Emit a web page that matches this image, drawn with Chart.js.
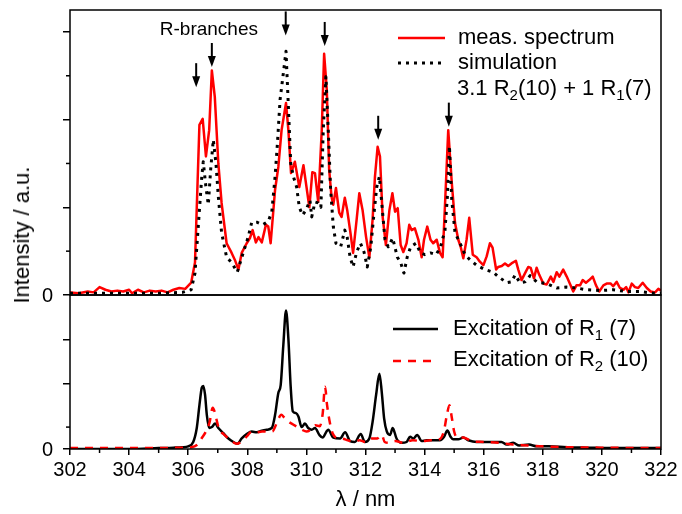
<!DOCTYPE html>
<html>
<head>
<meta charset="utf-8">
<script src="https://cdn.jsdelivr.net/npm/chart.js@4.4.1/dist/chart.umd.min.js"></script>
<style>
  body { margin: 0; background: #fff; }
  #wrap { position: relative; width: 682px; height: 514px; font-family: "Liberation Sans", Arial, sans-serif; }
  canvas { position: absolute; left: 0; }
  #topChart { top: 0; width: 682px; height: 312px; }
  #bottomChart { top: 290px; width: 682px; height: 224px; }
  #ylabel { position: absolute; left: 22px; top: 235px; transform: translate(-50%, -50%) rotate(-90deg);
            font-size: 22px; white-space: nowrap; color: #000; }
</style>
</head>
<body>
<div id="wrap">
  <canvas id="topChart" width="682" height="312"></canvas>
  <canvas id="bottomChart" width="682" height="224"></canvas>
  <div id="ylabel">Intensity / a.u.</div>
</div>
<script>
// measured spectrum (red, top panel)
const measWl = [302.0, 302.3, 302.6, 302.8, 303.0, 303.2, 303.4, 303.6, 303.8, 304.0, 304.1, 304.3, 304.5, 304.7, 304.9,
  305.1, 305.3, 305.5, 305.7, 305.9, 306.1, 306.23, 306.38, 306.49, 306.6, 306.71, 306.8, 306.9, 307.02, 307.13, 307.3,
  307.47, 307.58, 307.7, 307.81, 307.98, 308.09, 308.18, 308.29, 308.38, 308.49, 308.63, 308.71, 308.79, 308.94, 309.05,
  309.16, 309.31, 309.39, 309.48, 309.61, 309.76, 309.9, 310.1, 310.2, 310.29, 310.4, 310.52, 310.6, 310.69, 310.77,
  310.85, 310.91, 311.0, 311.11, 311.19, 311.3, 311.38, 311.49, 311.58, 311.7, 311.79, 311.9, 312.02, 312.13, 312.24,
  312.32, 312.41, 312.49, 312.58, 312.69, 312.81, 312.91, 313.0, 313.09, 313.19, 313.28, 313.39, 313.48, 313.56, 313.67,
  313.79, 313.9, 313.98, 314.09, 314.2, 314.29, 314.41, 314.52, 314.61, 314.7, 314.8, 314.92, 315.03, 315.14, 315.22,
  315.31, 315.42, 315.51, 315.63, 315.76, 315.87, 315.99, 316.1, 316.21, 316.3, 316.42, 316.49, 316.61, 316.72, 316.83,
  316.94, 317.09, 317.17, 317.28, 317.4, 317.51, 317.59, 317.7, 317.79, 317.88, 318.02, 318.13, 318.27, 318.36, 318.47,
  318.56, 318.69, 318.81, 318.94, 319.03, 319.14, 319.26, 319.35, 319.46, 319.57, 319.69, 319.8, 319.91, 320.05, 320.16,
  320.3, 320.38, 320.5, 320.61, 320.73, 320.82, 320.9, 321.01, 321.12, 321.23, 321.38, 321.52, 321.65, 321.8, 321.91, 322.0];
const measInt = [0.03, 0.02, 0.04, 0.03, 0.09, 0.06, 0.04, 0.05, 0.04, 0.06, 0.02, 0.06, 0.03, 0.05, 0.04,
  0.05, 0.03, 0.06, 0.08, 0.07, 0.14, 0.37, 1.94, 2.01, 1.58, 1.88, 2.56, 2.26, 1.5, 1.05, 0.59,
  0.48, 0.4, 0.29, 0.48, 0.59, 0.65, 0.74, 0.6, 0.66, 0.6, 0.8, 0.78, 0.59, 1.2, 1.46,
  1.88, 2.19, 1.88, 1.39, 1.52, 1.23, 1.48, 1.0, 1.4, 1.39, 1.06, 1.88, 2.75, 2.34, 1.43,
  1.12, 1.03, 1.22, 0.94, 0.89, 1.11, 0.97, 0.71, 0.48, 0.86, 1.16, 0.97, 0.66, 0.43, 0.86,
  1.35, 1.69, 1.58, 0.89, 0.57, 0.97, 1.16, 0.95, 0.99, 0.57, 0.49, 0.59, 0.8, 0.74, 0.76,
  0.63, 0.43, 0.63, 0.78, 0.63, 0.59, 0.63, 0.48, 0.43, 1.1, 1.88, 1.28, 0.82, 0.63, 0.55,
  0.42, 0.63, 0.88, 0.46, 0.43, 0.38, 0.34, 0.44, 0.59, 0.54, 0.29, 0.32, 0.33, 0.36, 0.33,
  0.36, 0.39, 0.29, 0.17, 0.25, 0.32, 0.31, 0.19, 0.31, 0.23, 0.13, 0.12, 0.21, 0.15, 0.26,
  0.21, 0.29, 0.21, 0.11, 0.04, 0.11, 0.11, 0.17, 0.14, 0.17, 0.21, 0.11, 0.04, 0.11, 0.13,
  0.13, 0.1, 0.15, 0.08, 0.06, 0.09, 0.03, 0.13, 0.09, 0.08, 0.14, 0.08, 0.04, 0.03, 0.07, 0.05];

// simulation 3.1 R2(10) + 1 R1(7) (black dotted, top panel)
const simWl = [302.0, 303.0, 304.0, 305.0, 305.8, 306.1, 306.23, 306.34, 306.46, 306.51, 306.6, 306.68, 306.76, 306.85,
  306.94, 307.02, 307.13, 307.3, 307.47, 307.66, 307.86, 308.03, 308.15, 308.32, 308.52, 308.71, 308.83, 308.94, 309.02,
  309.11, 309.22, 309.31, 309.39, 309.47, 309.56, 309.67, 309.76, 309.87, 309.99, 310.12, 310.18, 310.29, 310.4, 310.49,
  310.57, 310.66, 310.74, 310.82, 310.91, 311.0, 311.16, 311.3, 311.38, 311.48, 311.58, 311.7, 311.83, 311.95, 312.06,
  312.18, 312.29, 312.38, 312.47, 312.55, 312.66, 312.77, 312.92, 313.08, 313.19, 313.3, 313.41, 313.53, 313.71, 313.86,
  314.01, 314.2, 314.39, 314.54, 314.69, 314.77, 314.84, 314.92, 315.03, 315.2, 315.37, 315.54, 315.76, 316.04, 316.32,
  316.49, 316.78, 316.95, 317.06, 317.23, 317.4, 317.57, 317.79, 318.13, 318.47, 318.81, 319.14, 319.48, 319.94, 320.38,
  320.83, 321.29, 321.74, 322.0];
const simInt = [0.02, 0.02, 0.02, 0.02, 0.03, 0.06, 0.25, 0.78, 1.35, 1.52, 1.23, 1.03, 1.43, 1.77,
  1.5, 1.12, 0.71, 0.43, 0.37, 0.26, 0.48, 0.66, 0.83, 0.83, 0.8, 0.84, 0.95, 1.35, 1.73,
  2.23, 2.53, 2.78, 2.15, 1.5, 1.35, 1.23, 1.0, 0.91, 0.97, 1.08, 0.89, 1.06, 1.05, 1.0,
  1.88, 2.49, 1.88, 1.2, 0.78, 0.59, 0.55, 0.74, 0.66, 0.43, 0.32, 0.49, 0.59, 0.49, 0.32,
  0.55, 0.94, 1.23, 1.35, 1.05, 0.63, 0.55, 0.65, 0.43, 0.37, 0.25, 0.43, 0.55, 0.59, 0.48,
  0.46, 0.48, 0.46, 0.55, 0.74, 1.12, 1.7, 1.08, 0.71, 0.59, 0.46, 0.4, 0.34, 0.29, 0.26,
  0.21, 0.14, 0.15, 0.23, 0.14, 0.15, 0.22, 0.15, 0.13, 0.08, 0.09, 0.08, 0.06, 0.05, 0.06,
  0.04, 0.04, 0.02, 0.02];

// excitation of R1(7) (black solid, bottom panel)
const excR1Wl = [302.0, 304.0, 305.0, 305.5, 305.8, 306.0, 306.17, 306.29, 306.38, 306.46, 306.51, 306.57, 306.63, 306.71,
  306.8, 306.91, 307.02, 307.19, 307.36, 307.53, 307.66, 307.81, 307.98, 308.15, 308.32, 308.49, 308.66, 308.83, 308.94,
  309.05, 309.13, 309.22, 309.31, 309.39, 309.47, 309.54, 309.65, 309.73, 309.84, 309.95, 310.06, 310.18, 310.29, 310.44,
  310.55, 310.68, 310.74, 310.91, 311.14, 311.31, 311.48, 311.64, 311.84, 311.98, 312.13, 312.24, 312.36, 312.47, 312.55,
  312.63, 312.72, 312.83, 312.92, 313.05, 313.22, 313.39, 313.51, 313.62, 313.75, 313.9, 314.07, 314.29, 314.52, 314.66,
  314.77, 314.88, 314.97, 315.14, 315.31, 315.48, 315.76, 316.1, 316.44, 316.6, 316.78, 317.0, 317.2, 317.53, 317.8,
  318.2, 318.8, 319.5, 320.5, 322.0];
const excR1Int = [0.0, 0.0, 0.01, 0.015, 0.02, 0.03, 0.08, 0.24, 0.5, 0.7, 0.72, 0.62, 0.39, 0.24,
  0.25, 0.29, 0.24, 0.18, 0.12, 0.08, 0.06, 0.12, 0.17, 0.2, 0.19, 0.21, 0.22, 0.24, 0.39,
  0.64, 0.73, 1.19, 1.58, 1.26, 0.7, 0.43, 0.41, 0.37, 0.25, 0.29, 0.24, 0.22, 0.24, 0.16,
  0.13, 0.2, 0.22, 0.13, 0.12, 0.19, 0.09, 0.08, 0.17, 0.08, 0.12, 0.31, 0.62, 0.86, 0.65,
  0.35, 0.2, 0.16, 0.24, 0.12, 0.07, 0.08, 0.14, 0.12, 0.16, 0.09, 0.1, 0.1, 0.1, 0.14,
  0.21, 0.14, 0.11, 0.11, 0.13, 0.1, 0.08, 0.08, 0.08, 0.08, 0.05, 0.07, 0.04, 0.05, 0.03,
  0.03, 0.02, 0.015, 0.01, 0.01];

// excitation of R2(10) (red dashed, bottom panel)
const excR2Wl = [302.0, 303.0, 304.0, 305.0, 305.8, 306.1, 306.34, 306.45, 306.6, 306.72, 306.83, 306.9, 306.97, 307.05,
  307.2, 307.4, 307.65, 307.85, 308.0, 308.15, 308.3, 308.5, 308.7, 308.85, 308.95, 309.05, 309.15, 309.25, 309.4,
  309.55, 309.7, 309.85, 310.0, 310.15, 310.3, 310.45, 310.55, 310.63, 310.7, 310.8, 310.9, 311.0, 311.2, 311.4,
  311.6, 311.8, 312.0, 312.2, 312.4, 312.55, 312.65, 312.8, 313.0, 313.3, 313.6, 313.9, 314.2, 314.5, 314.65,
  314.75, 314.84, 314.92, 315.0, 315.1, 315.3, 315.6, 316.0, 316.5, 317.0, 317.5, 318.0, 319.0, 320.0, 322.0];
const excR2Int = [0.01, 0.01, 0.01, 0.01, 0.015, 0.02, 0.06, 0.12, 0.2, 0.3, 0.47, 0.42, 0.32, 0.22,
  0.17, 0.11, 0.06, 0.1, 0.15, 0.2, 0.19, 0.2, 0.2, 0.2, 0.26, 0.34, 0.39, 0.36, 0.31,
  0.28, 0.25, 0.22, 0.2, 0.22, 0.27, 0.26, 0.4, 0.71, 0.5, 0.29, 0.17, 0.13, 0.12, 0.1,
  0.08, 0.1, 0.08, 0.12, 0.12, 0.16, 0.08, 0.07, 0.09, 0.07, 0.1, 0.09, 0.1, 0.11, 0.2,
  0.38, 0.5, 0.36, 0.2, 0.13, 0.13, 0.09, 0.08, 0.07, 0.05, 0.04, 0.03, 0.02, 0.015, 0.01];

// axis ticks
const xMajor = [302, 304, 306, 308, 310, 312, 314, 316, 318, 320, 322];
const xMinor = [303, 305, 307, 309, 311, 313, 315, 317, 319, 321];
const topYMajor = [0, 1, 2, 3];
const topYMinor = [0.5, 1.5, 2.5];
const bottomYMajor = [0, 0.75, 1.25];
const bottomYMinor = [0.25];

// R-branch arrows: wavelength and intensity of the arrow tip
const arrowWl = [306.27, 306.8, 309.3, 310.62, 312.43, 314.82];
const arrowTip = [2.37, 2.6, 2.96, 2.84, 1.77, 1.92];

const FONT = '"Liberation Sans", Arial, sans-serif';
const pts = (xs, ys) => xs.map((x, i) => ({ x: x, y: ys[i] }));

function drawFrame(chart) {
  const { ctx, chartArea: a, scales } = chart;
  ctx.save();
  ctx.strokeStyle = "#000";
  ctx.lineWidth = 1.5;
  ctx.setLineDash([]);
  ctx.beginPath();
  ctx.rect(a.left, a.top, a.right - a.left, a.bottom - a.top);
  ctx.stroke();
  // "0" label of the intensity axis
  ctx.fillStyle = "#000";
  ctx.font = "20px " + FONT;
  ctx.textAlign = "right";
  ctx.textBaseline = "middle";
  ctx.fillText("0", a.left - 17, scales.y.getPixelForValue(0) + 1);
  ctx.restore();
}

function drawMinorY(chart, values) {
  const { ctx, chartArea: a, scales } = chart;
  ctx.save();
  ctx.strokeStyle = "#000";
  ctx.lineWidth = 1.5;
  values.forEach((v) => {
    const y = scales.y.getPixelForValue(v);
    ctx.beginPath();
    ctx.moveTo(a.left - 4, y);
    ctx.lineTo(a.left, y);
    ctx.stroke();
  });
  ctx.restore();
}

function sample(ctx, x0, x1, y, color, dash, width) {
  ctx.save();
  ctx.strokeStyle = color;
  ctx.lineWidth = width;
  ctx.setLineDash(dash);
  ctx.beginPath();
  ctx.moveTo(x0, y);
  ctx.lineTo(x1, y);
  ctx.stroke();
  ctx.restore();
}

// text with subscripts: parts = [[text, isSub], ...]
function drawRich(ctx, x, y, parts) {
  ctx.save();
  ctx.fillStyle = "#000";
  ctx.textBaseline = "middle";
  ctx.textAlign = "left";
  parts.forEach(([txt, sub]) => {
    ctx.font = (sub ? "15px " : "22px ") + FONT;
    ctx.fillText(txt, x, sub ? y + 7 : y);
    x += ctx.measureText(txt).width;
  });
  ctx.restore();
}

const topDecor = {
  id: "topDecor",
  afterDraw(chart) {
    const { ctx, scales } = chart;
    drawFrame(chart);
    drawMinorY(chart, topYMinor);

    // arrows marking the R-branches
    ctx.save();
    ctx.fillStyle = "#000";
    ctx.strokeStyle = "#000";
    ctx.lineWidth = 2;
    arrowWl.forEach((wl, i) => {
      const x = scales.x.getPixelForValue(wl);
      const yt = scales.y.getPixelForValue(arrowTip[i]);
      ctx.beginPath();
      ctx.moveTo(x, yt - 24);
      ctx.lineTo(x, yt - 9);
      ctx.stroke();
      ctx.beginPath();
      ctx.moveTo(x - 4, yt - 11);
      ctx.lineTo(x + 4, yt - 11);
      ctx.lineTo(x, yt);
      ctx.closePath();
      ctx.fill();
    });
    ctx.font = "19px " + FONT;
    ctx.textAlign = "center";
    ctx.textBaseline = "middle";
    ctx.fillText("R-branches", scales.x.getPixelForValue(306.7), scales.y.getPixelForValue(3.03));
    ctx.restore();

    // legend
    sample(ctx, 398, 445, 38, "#ff0000", [], 2.5);
    drawRich(ctx, 458, 38, [["meas. spectrum", false]]);
    sample(ctx, 398, 445, 63, "#000", [3, 5], 3);
    drawRich(ctx, 458, 63, [["simulation", false]]);
    drawRich(ctx, 457, 89, [["3.1 R", false], ["2", true], ["(10) + 1 R", false], ["1", true], ["(7)", false]]);
  },
};

const bottomDecor = {
  id: "bottomDecor",
  afterDraw(chart) {
    const { ctx, chartArea: a, scales } = chart;
    drawFrame(chart);
    drawMinorY(chart, bottomYMinor);
    ctx.save();
    ctx.strokeStyle = "#000";
    ctx.lineWidth = 1.5;
    xMinor.forEach((v) => {
      const x = scales.x.getPixelForValue(v);
      ctx.beginPath();
      ctx.moveTo(x, a.bottom);
      ctx.lineTo(x, a.bottom + 4);
      ctx.stroke();
    });
    ctx.restore();

    sample(ctx, 393, 438, 329 - 290, "#000", [], 2.5);
    drawRich(ctx, 453, 329 - 290, [["Excitation of R", false], ["1", true], [" (7)", false]]);
    sample(ctx, 393, 438, 361 - 290, "#ff0000", [8, 7], 2.5);
    drawRich(ctx, 453, 360 - 290, [["Excitation of R", false], ["2", true], [" (10)", false]]);
  },
};

function yAxis(max, major) {
  return {
    type: "linear",
    min: 0,
    max: max,
    afterFit: (s) => { s.width = 70; },
    afterBuildTicks: (s) => { s.ticks = major.map((v) => ({ value: v })); },
    ticks: { display: false },
    grid: { drawOnChartArea: false, tickLength: 7, color: "#000", lineWidth: 1.5 },
    border: { display: false },
  };
}

const common = {
  responsive: false,
  animation: false,
  devicePixelRatio: 1,
  parsing: false,
  plugins: { legend: { display: false }, tooltip: { enabled: false } },
  elements: { point: { radius: 0 }, line: { borderJoinStyle: "round" } },
};

new Chart(document.getElementById("topChart"), {
  type: "line",
  data: {
    datasets: [
      {
        data: pts(simWl, simInt),
        borderColor: "#000",
        borderWidth: 3,
        borderDash: [3, 5],
        tension: 0,
        fill: false,
      },
      {
        data: pts(measWl, measInt),
        borderColor: "#ff0000",
        borderWidth: 2.5,
        tension: 0,
        fill: false,
      },
    ],
  },
  options: {
    ...common,
    layout: { padding: { top: 10, right: 21, bottom: 17, left: 0 } },
    scales: {
      x: { type: "linear", min: 302, max: 322, display: false },
      y: yAxis(3.25, topYMajor),
    },
  },
  plugins: [topDecor],
});

new Chart(document.getElementById("bottomChart"), {
  type: "line",
  data: {
    datasets: [
      {
        data: pts(excR2Wl, excR2Int),
        borderColor: "#ff0000",
        borderWidth: 2.5,
        borderDash: [8, 7],
        cubicInterpolationMode: "monotone",
        fill: false,
      },
      {
        data: pts(excR1Wl, excR1Int),
        borderColor: "#000",
        borderWidth: 2.5,
        cubicInterpolationMode: "monotone",
        fill: false,
      },
    ],
  },
  options: {
    ...common,
    layout: { padding: { top: 5, right: 21, bottom: 0, left: 0 } },
    scales: {
      x: {
        type: "linear",
        min: 302,
        max: 322,
        afterFit: (s) => { s.height = 65; },
        afterBuildTicks: (s) => { s.ticks = xMajor.map((v) => ({ value: v })); },
        ticks: { font: { family: FONT, size: 20 }, color: "#000", padding: 3, maxRotation: 0, autoSkip: false },
        grid: { drawOnChartArea: false, tickLength: 6, color: "#000", lineWidth: 1.5 },
        border: { display: false },
        title: { display: true, text: "λ / nm", font: { family: FONT, size: 22 }, color: "#000", padding: { top: 0, bottom: 1 } },
      },
      y: yAxis(1.758, bottomYMajor),
    },
  },
  plugins: [bottomDecor],
});
</script>
</body>
</html>
